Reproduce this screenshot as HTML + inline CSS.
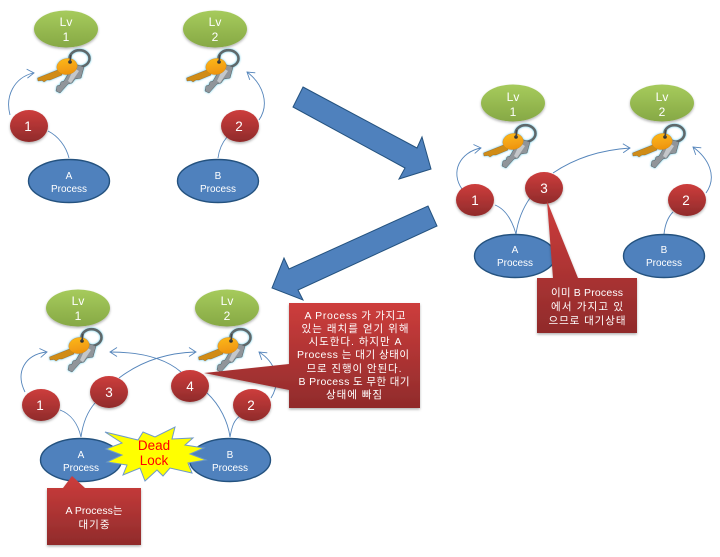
<!DOCTYPE html>
<html><head><meta charset="utf-8">
<style>
html,body{margin:0;padding:0;background:#fff;width:720px;height:557px;overflow:hidden}
svg{display:block;filter:blur(.35px)}
text{font-family:"Liberation Sans","Noto Sans CJK KR",sans-serif;fill:#fff;text-anchor:middle}
.l{font-size:12px}
.p{font-size:10px}
.n{font-size:13.5px}
.k{font-size:10.5px}
.c{fill:none;stroke:#5585bb;stroke-width:.9}
</style></head>
<body>
<svg width="720" height="557" viewBox="0 0 720 557" xmlns="http://www.w3.org/2000/svg">
<defs>
<linearGradient id="gg" x1="0" y1="0" x2="0" y2="1"><stop offset="0" stop-color="#a6cb5c"/><stop offset="1" stop-color="#86a845"/></linearGradient>
<linearGradient id="gr" x1="0" y1="0" x2="0" y2="1"><stop offset="0" stop-color="#cd3d3c"/><stop offset="1" stop-color="#902b2b"/></linearGradient>
<linearGradient id="ko" x1="0" y1="0" x2="0" y2="1"><stop offset="0" stop-color="#fbb616"/><stop offset="1" stop-color="#ee9310"/></linearGradient>
<filter id="sh" x="-20%" y="-20%" width="140%" height="150%"><feDropShadow dx="0" dy="1.5" stdDeviation="1.2" flood-color="#000" flood-opacity=".3"/></filter>
<filter id="gl" x="-20%" y="-20%" width="140%" height="140%"><feDropShadow dx="0" dy="0" stdDeviation="1.1" flood-color="#5cc8e4" flood-opacity="1"/></filter>
<g id="key" filter="url(#gl)">
  <ellipse cx="79.5" cy="58.5" rx="10" ry="8.3" fill="none" stroke="#5f676b" stroke-width="2.6"/>
  <path d="M72 63 L84 67 L81 78 L75 79 L72 83 L68 84 L60 93 L56 91 L57 86 L60 85 L61 82 L64 81 L68 74 Z" fill="#90959a" stroke="#50565a" stroke-width=".5"/>
  <path d="M74 68 L79 71 L71 83 L68 81 Z" fill="#c4c7ca"/>
  <path d="M60 69 L37.5 78 L38 81 L42 80.5 L44 82 L47 80 L50 80 L62 75 Z" fill="#d08c12" stroke="#8a5c0a" stroke-width=".4"/>
  <ellipse cx="67" cy="66.5" rx="10.3" ry="8" transform="rotate(-10 67 66.5)" fill="url(#ko)" stroke="#c98910" stroke-width=".4"/>
  <circle cx="70" cy="62" r="1.8" fill="#333"/>
  <path d="M70 62 L71 55" stroke="#444" stroke-width="1.6" fill="none"/>
</g>
<g id="head"><path class="c" d="M-7 -4.5 L0 0 L-7 4.5" /></g>
<g id="lv"><ellipse cx="0" cy="0" rx="32" ry="18.5" fill="url(#gg)" filter="url(#sh)"/></g>
<g id="red"><ellipse cx="0" cy="0" rx="19" ry="16" fill="url(#gr)" filter="url(#sh)"/></g>
<g id="blue"><ellipse cx="0" cy="0" rx="40.5" ry="21.5" fill="#4f81bd" stroke="#24527f" stroke-width="1.4"/></g>
</defs>

<!-- big arrows -->
<polygon points="303,87 417,148 422,137 431,169 399,179 405,168 293,107" fill="#4f81bd" stroke="#24527f" stroke-width="1"/>
<polygon points="428,206 437,226 298,290 303,300 272,288 284,258 289,269" fill="#4f81bd" stroke="#24527f" stroke-width="1"/>

<!-- Diagram 1 -->
<path class="c" d="M10 115 C5 96 14 78 33 73"/><use href="#head" transform="translate(34,73) rotate(-5)"/>
<path class="c" d="M69 158 C66 146 58 136 48 131"/>
<path class="c" d="M218 158 C219 150 222 143 227 137"/>
<path class="c" d="M259 120 C270 104 263 84 247 72"/><use href="#head" transform="translate(247,72) rotate(218)"/>
<use href="#lv" x="66" y="29"/><text class="l" x="66" y="26">Lv</text><text class="l" x="66" y="41">1</text>
<use href="#lv" x="215" y="29"/><text class="l" x="215" y="26">Lv</text><text class="l" x="215" y="41">2</text>
<use href="#key"/>
<use href="#key" x="149"/>
<use href="#red" x="29" y="126"/><text class="n" x="28" y="131">1</text>
<use href="#red" x="240" y="126"/><text class="n" x="239" y="131">2</text>
<use href="#blue" x="69" y="181"/><text class="p" x="69" y="179">A</text><text class="p" x="69" y="192">Process</text>
<use href="#blue" x="218" y="181"/><text class="p" x="218" y="179">B</text><text class="p" x="218" y="192">Process</text>

<!-- Diagram 2 -->
<path class="c" d="M462 189 C450 172 460 152 481 148"/><use href="#head" transform="translate(481,148) rotate(-8)"/>
<path class="c" d="M516 234 C512 220 505 209 495 205"/>
<path class="c" d="M516 234 C518 220 523 208 530 198"/>
<path class="c" d="M553 173 C575 158 600 150 630 148"/><use href="#head" transform="translate(630,148) rotate(-2)"/>
<path class="c" d="M664 234 C665 225 668 217 673 212"/>
<path class="c" d="M706 193 C718 176 708 158 693 147"/><use href="#head" transform="translate(693,147) rotate(218)"/>
<use href="#lv" x="513" y="103"/><text class="l" x="513" y="101">Lv</text><text class="l" x="513" y="116">1</text>
<use href="#lv" x="662" y="103"/><text class="l" x="662" y="101">Lv</text><text class="l" x="662" y="116">2</text>
<use href="#key" x="446" y="75"/>
<use href="#key" x="595" y="75"/>
<use href="#blue" x="515" y="256"/><text class="p" x="515" y="253">A</text><text class="p" x="515" y="266">Process</text>
<use href="#blue" x="664" y="256"/><text class="p" x="664" y="253">B</text><text class="p" x="664" y="266">Process</text>
<use href="#red" x="475" y="200"/><text class="n" x="475" y="205">1</text>
<use href="#red" x="687" y="200"/><text class="n" x="686" y="205">2</text>
<use href="#red" x="544" y="188"/><text class="n" x="544" y="193">3</text>
<polygon points="547,201 553,278 537,278 537,333 637,333 637,278 578,278" fill="url(#gr)" filter="url(#sh)"/>
<text class="k" x="587" y="296" textLength="72">이미 B Process</text>
<text class="k" x="587" y="310" textLength="72">에서 가지고 있</text>
<text class="k" x="587" y="324" textLength="77">으므로 대기상태</text>

<!-- Diagram 3 -->
<path class="c" d="M25 392 C15 372 25 355 46 352"/><use href="#head" transform="translate(47,352) rotate(-8)"/>
<path class="c" d="M81 437 C78 424 71 414 60 410"/>
<path class="c" d="M81 437 C83 422 88 411 95 403"/>
<path class="c" d="M119 378 C140 362 165 353 195 352"/><use href="#head" transform="translate(196,352) rotate(0)"/>
<path class="c" d="M181 372 C165 358 140 352 110 352"/><use href="#head" transform="translate(110,352) rotate(180)"/>
<path class="c" d="M230 437 C228 422 220 405 207 393"/>
<path class="c" d="M230 437 C232 426 234 420 240 416"/>
<path class="c" d="M271 398 C282 380 275 362 259 352"/><use href="#head" transform="translate(259,352) rotate(218)"/>
<use href="#lv" x="78" y="308"/><text class="l" x="78" y="305">Lv</text><text class="l" x="78" y="320">1</text>
<use href="#lv" x="227" y="308"/><text class="l" x="227" y="305">Lv</text><text class="l" x="227" y="320">2</text>
<use href="#key" x="12" y="279"/>
<use href="#key" x="161" y="279"/>
<use href="#blue" x="81" y="460"/><text class="p" x="81" y="458">A</text><text class="p" x="81" y="471">Process</text>
<use href="#blue" x="230" y="460"/><text class="p" x="230" y="458">B</text><text class="p" x="230" y="471">Process</text>
<use href="#red" x="41" y="405"/><text class="n" x="40" y="410">1</text>
<use href="#red" x="252" y="405"/><text class="n" x="251" y="410">2</text>
<use href="#red" x="109" y="392"/><text class="n" x="109" y="397">3</text>
<use href="#red" x="190" y="386"/><text class="n" x="190" y="391">4</text>

<polygon points="105,432 138,440 143,432 155,437 175,427 172,439 193,438 185,445 204,448 190,454 206,460 188,463 192,473 170,468 163,476 157,470 145,481 140,468 123,475 127,465 107,462 122,455 106,449 122,443" fill="#ffff00" stroke="#6f9ac8" stroke-width="1"/>
<text x="154" y="450" style="font-size:13.5px;fill:#f00">Dead</text>
<text x="154" y="465" style="font-size:13.5px;fill:#f00">Lock</text>

<polygon points="72,476 85,488 141,488 141,545 47,545 47,488 63,488" fill="url(#gr)" filter="url(#sh)"/>
<text class="k" x="94" y="514" textLength="57">A Process는</text>
<text class="k" x="94" y="528" textLength="31">대기중</text>

<polygon points="204,373 289,364 289,303 420,303 420,408 289,408 289,390" fill="url(#gr)" filter="url(#sh)"/>
<text class="k" x="355" y="319" textLength="101">A  Process 가 가지고</text>
<text class="k" x="355" y="332" textLength="107">있는 래치를 얻기 위해</text>
<text class="k" x="355" y="345" textLength="93">시도한다. 하지만 A</text>
<text class="k" x="353" y="358" textLength="112">Process 는 대기 상태이</text>
<text class="k" x="354" y="372" textLength="95">므로 진행이 안된다.</text>
<text class="k" x="354" y="385" textLength="111">B Process 도 무한 대기</text>
<text class="k" x="354" y="398" textLength="56">상태에 빠짐</text>
</svg>
</body></html>
